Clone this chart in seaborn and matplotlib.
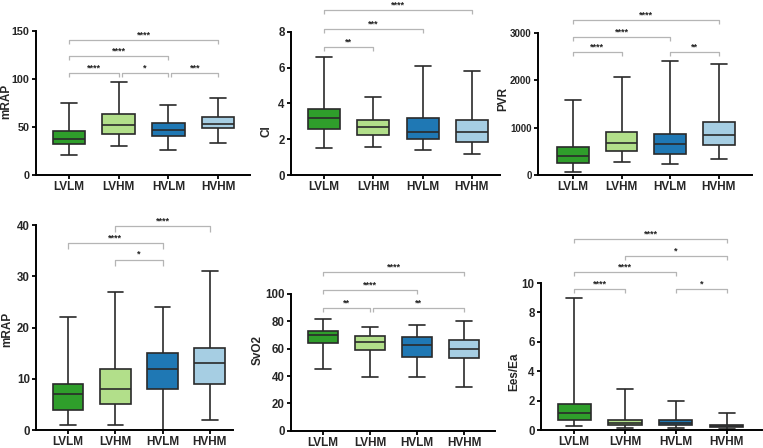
import numpy as np
import pandas as pd
import matplotlib
matplotlib.use("Agg")
import matplotlib.pyplot as plt
import seaborn as sns

# ---------------- data ----------------
groups = ["LVLM", "LVHM", "HVLM", "HVHM"]
colors = ["#2f9e2b", "#b2df8a", "#1f78b4", "#a6cee3"]

# five-number summaries per group: [min, q1, median, q3, max]
mrap_top = [[21, 32, 38, 46, 75], [30, 43, 52, 64, 97], [26, 41, 47, 54, 73], [33, 49, 53, 60, 80]]
ci = [[1.5, 2.6, 3.2, 3.7, 6.6], [1.55, 2.25, 2.7, 3.1, 4.35], [1.4, 2.0, 2.4, 3.2, 6.1], [1.2, 1.85, 2.4, 3.1, 5.8]]
pvr = [[60, 250, 400, 600, 1590], [280, 510, 680, 900, 2070], [230, 450, 650, 860, 2400], [340, 630, 840, 1110, 2350]]
mrap_bot = [[1, 4, 7, 9, 22], [1, 5, 8, 12, 27], [0, 8, 12, 15, 24], [2, 9, 13, 16, 31]]
svo2 = [[45, 64, 70, 73, 82], [39, 59, 65, 69, 76], [39, 54, 63, 68.5, 77.5], [32, 53.5, 60, 66, 80.5]]
eesea = [[0.25, 0.7, 1.15, 1.8, 9.0], [0.15, 0.33, 0.5, 0.68, 2.8], [0.12, 0.35, 0.5, 0.7, 2.0], [0.05, 0.18, 0.25, 0.35, 1.15]]

ylabels = ["mRAP", "CI", "PVR", "mRAP", "SvO2", "Ees/Ea"]
yticks = [[0, 50, 100, 150], [0, 2, 4, 6, 8], [0, 1000, 2000, 3000],
          [0, 10, 20, 30, 40], [0, 20, 40, 60, 80, 100], [0, 2, 4, 6, 8, 10]]

# significance brackets: (group i, group j, level value, label)
sig_mrap_top = [(0, 3, 141, "****"), (0, 2, 124, "****"), (0, 1, 106, "****"), (1, 2, 106, "*"), (2, 3, 106, "***")]
sig_ci = [(0, 3, 9.23, "****"), (0, 2, 8.18, "***"), (0, 1, 7.16, "**")]
sig_pvr = [(0, 3, 3270, "****"), (0, 2, 2915, "****"), (0, 1, 2590, "****"), (2, 3, 2590, "**")]
sig_mrap_bot = [(1, 3, 39.8, "****"), (0, 2, 36.5, "****"), (1, 2, 33.2, "*")]
sig_svo2 = [(0, 3, 116, "****"), (0, 2, 102.7, "****"), (0, 1, 89.5, "**"), (1, 3, 89.5, "**")]
sig_eesea = [(0, 3, 12.97, "****"), (1, 3, 11.84, "*"), (0, 2, 10.73, "****"), (0, 1, 9.59, "****"), (2, 3, 9.59, "*")]

panels_data = [mrap_top, ci, pvr, mrap_bot, svo2, eesea]
panels_sig = [sig_mrap_top, sig_ci, sig_pvr, sig_mrap_bot, sig_svo2, sig_eesea]

# ---------------- layout (pixels) ----------------
W, H = 763, 448
# left, right, y of zero, y of top tick, xlim, ylabel centre (x, y), ytick font size
layout = [
    (36, 250, 175, 31, (-0.66, 3.64), (6, 101), 7.8),
    (291, 500, 175, 32, (-0.67, 3.57), (267, 131), 8.3),
    (538, 752, 175, 33, (-0.72, 3.68), (503, 99), 7.0),
    (36, 233, 430, 225, (-0.68, 3.49), (7, 329), 8.3),
    (291, 495, 430.7, 294, (-0.68, 3.66), (258, 350), 8.3),
    (541, 762, 430, 283, (-0.65, 3.69), (514, 372), 8.3),
]

sns.set_theme(style="ticks")
plt.rcParams["font.family"] = ["Liberation Sans", "DejaVu Sans"]
plt.rcParams["font.weight"] = "bold"

fig = plt.figure(figsize=(W / 100, H / 100), dpi=100)
fig.patch.set_facecolor("white")

edge = "#2a2a2a"
br_col = "#b5b5b5"

for k in range(6):
    l, r, y0, ytop, xl, (lx, ly), yfs = layout[k]
    ax = fig.add_axes([l / W, 1 - y0 / H, (r - l) / W, (y0 - ytop) / H])
    rows = []
    for g, vals in zip(groups, panels_data[k]):
        for v in vals:
            rows.append({"group": g, "value": v})
    df = pd.DataFrame(rows)
    sns.boxplot(data=df, x="group", y="value", hue="group", order=groups, hue_order=groups,
                palette=colors, whis=(0, 100), width=0.65, linecolor=edge, linewidth=1.2,
                showfliers=False, legend=False, ax=ax, saturation=1)
    ymax = yticks[k][-1]
    ax.set_ylim(0, ymax)
    ax.set_xlim(*xl)
    ax.set_yticks(yticks[k])
    ax.set_xticks(range(len(groups)))
    ax.set_xticklabels(groups, fontsize=8.5, fontweight="bold")
    ax.set_yticklabels([str(t) for t in yticks[k]], fontsize=yfs, fontweight="bold")
    ax.set_xlabel("")
    ax.set_ylabel(ylabels[k], fontsize=8.5, fontweight="bold")
    ax.yaxis.set_label_coords(lx / W, 1 - ly / H, transform=fig.transFigure)
    ax.yaxis.label.set_va("center")
    ax.tick_params(axis="both", width=1.3, length=3, color="black", pad=1.5)
    for s in ["top", "right"]:
        ax.spines[s].set_visible(False)
    for s in ["left", "bottom"]:
        ax.spines[s].set_linewidth(1.4)
        ax.spines[s].set_color("black")
    ax.patch.set_alpha(0)

    drop = 0.028 * ymax
    ends = {}
    for (i, j, lvl, lab) in panels_sig[k]:
        ends.setdefault(lvl, []).append((i, j))
    for (i, j, lvl, lab) in panels_sig[k]:
        xi = i
        # small gap when another bracket on the same level ends where this one starts
        if any(jj == i for (ii, jj) in ends[lvl]):
            xi = i + 0.06
        ax.plot([xi, xi, j, j], [lvl - drop, lvl, lvl, lvl - drop], color=br_col, lw=0.9,
                clip_on=False, solid_capstyle="butt")
        ax.text((xi + j) / 2, lvl + 0.004 * ymax, lab, ha="center", va="bottom",
                fontsize=6.5, fontweight="bold", color="#222222", clip_on=False)

fig.savefig("out.png", dpi=100, facecolor="white")
